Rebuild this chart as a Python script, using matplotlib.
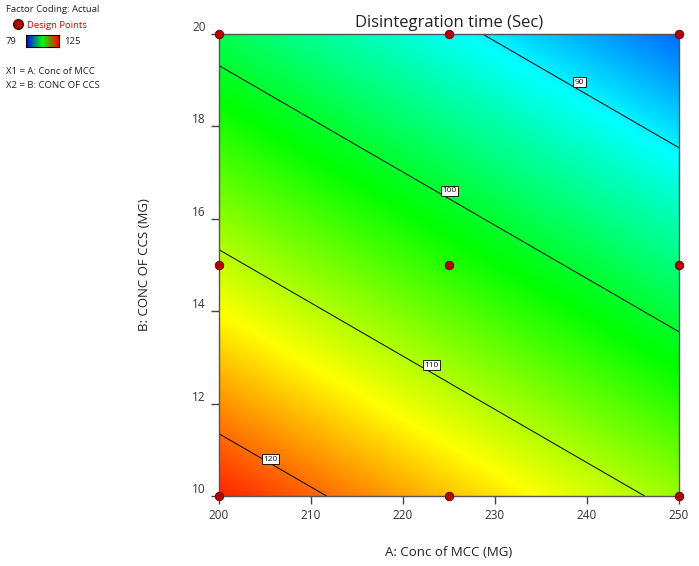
import numpy as np
import matplotlib
matplotlib.use("Agg")
import matplotlib.pyplot as plt
from matplotlib.colors import LinearSegmentedColormap

plt.rcParams['font.family'] = ['Open Sans', 'DejaVu Sans']

# design points (3x3 factorial)
mcc_points = [200, 225, 250, 200, 225, 250, 200, 225, 250]
ccs_points = [10, 10, 10, 15, 15, 15, 20, 20, 20]

# fitted linear model, coded units
intercept = 103.6
coef_a = -7.23
coef_b = -12.55

contour_levels = [90, 100, 110, 120]
label_spots = [(239.2, 18.96), (225.05, 16.61), (223.1, 12.83), (205.6, 10.80)]
color_low, color_high = 79, 125

x_ticks = [200, 210, 220, 230, 240, 250]
y_ticks = [10, 12, 14, 16, 18, 20]

cmap = LinearSegmentedColormap.from_list(
    "de", ["#0000ff", "#00ffff", "#00ff00", "#ffff00", "#ff0000"])

fig = plt.figure(figsize=(6.99, 5.66), dpi=100)
ax = fig.add_axes([0.3133, 0.1237, 0.658, 0.8163])

A = np.linspace(200, 250, 300)
B = np.linspace(10, 20, 300)
AA, BB = np.meshgrid(A, B)
Z = intercept + coef_a * (AA - 225) / 25 + coef_b * (BB - 15) / 5

ax.imshow(Z, origin="lower", extent=(200, 250, 10, 20), aspect="auto",
          cmap=cmap, vmin=color_low, vmax=color_high, interpolation="bilinear")
cs = ax.contour(AA, BB, Z, levels=contour_levels, colors="black", linewidths=0.7)

# contour labels in white boxes
for lev, (lx, ly) in zip(contour_levels, label_spots):
    ax.text(lx, ly, str(lev), fontsize=6, ha="center", va="center", zorder=4,
            color="#111111",
            bbox=dict(facecolor="white", edgecolor="black", linewidth=0.6, pad=1.0))

ax.scatter(mcc_points, ccs_points, s=38, color="#b00000", edgecolor="#600000",
           linewidth=0.6, zorder=5, clip_on=False)

ax.set_xlim(200, 250)
ax.set_ylim(10, 20)
ax.set_xticks(x_ticks)
ax.set_yticks(y_ticks)
ax.tick_params(direction="out", length=6, width=1, colors="#444444",
               labelsize=8.5, labelcolor="#333333")
for s in ax.spines.values():
    s.set_color("#555555")
    s.set_linewidth(1)
for lbl in ax.get_yticklabels():
    lbl.set_verticalalignment("bottom")

ax.set_title("Disintegration time (Sec)", fontsize=12, color="#222222", pad=5)
ax.set_xlabel("A: Conc of MCC (MG)", fontsize=9.5, color="#222222", labelpad=17)
ax.set_ylabel("B: CONC OF CCS (MG)", fontsize=9.5, color="#222222", labelpad=30)

# legend block in the top-left corner
W, H = 699, 566
def fx(px):
    return px / W
def fy(py):
    return 1 - py / H

fig.text(fx(6), fy(10), "Factor Coding: Actual", fontsize=6.8, color="#222222", va="center")
fig.add_artist(plt.Line2D([fx(18)], [fy(24)], marker="o", markersize=7,
                          color="#b00000", markeredgecolor="#600000"))
fig.text(fx(27), fy(25), "Design Points", fontsize=6.8, color="#d00000", va="center")
fig.text(fx(6), fy(41), "79", fontsize=6.8, color="#222222", va="center")
cax = fig.add_axes([fx(26), fy(47), fx(59) - fx(26), fy(35) - fy(47)])
cax.imshow(np.linspace(0, 1, 100)[None, :], aspect="auto",
           cmap=LinearSegmentedColormap.from_list("lg", ["#0000ff", "#00ff00", "#ff0000"]))
cax.set_xticks([])
cax.set_yticks([])
for s in cax.spines.values():
    s.set_linewidth(0.8)
fig.text(fx(64), fy(41), "125", fontsize=6.8, color="#222222", va="center")
fig.text(fx(6), fy(71), "X1 = A: Conc of MCC", fontsize=6.8, color="#222222", va="center")
fig.text(fx(6), fy(86), "X2 = B: CONC OF CCS", fontsize=6.8, color="#222222", va="center")

fig.savefig("out.png", dpi=100)
